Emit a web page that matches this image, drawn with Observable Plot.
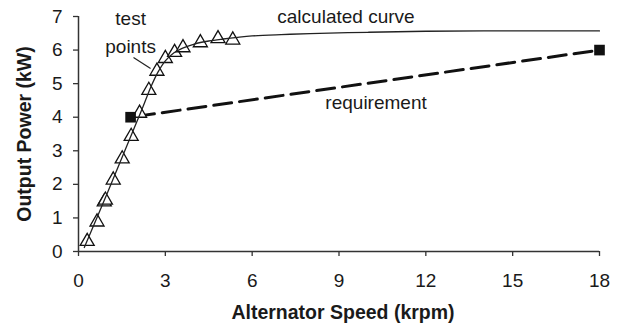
<!DOCTYPE html>
<html><head><meta charset="utf-8">
<script src="https://cdn.jsdelivr.net/npm/d3@7"></script>
<script src="https://cdn.jsdelivr.net/npm/@observablehq/plot@0.6"></script>
<style>body{margin:0;background:#fff}</style>
</head><body><div id="chart"></div>
<script>
// Test points (krpm, kW)
const testSpeed = [0.30, 0.64, 0.89, 0.93, 1.20, 1.51, 1.82, 2.11, 2.43, 2.71, 3.00, 3.32, 3.61, 4.21, 4.82, 5.33];
const testPower = [0.30, 0.88, 1.48, 1.53, 2.13, 2.76, 3.43, 4.12, 4.80, 5.37, 5.75, 5.93, 6.07, 6.22, 6.34, 6.30];
// Calculated curve
const calcSpeed = [0.20, 1.00, 1.80, 2.20, 2.50, 2.75, 3.00, 3.30, 3.60, 4.00, 4.50, 5.00, 5.50, 6.00, 7.00, 8.00, 10.0, 12.0, 14.0, 16.0, 18.0];
const calcPower = [0.12, 1.75, 3.42, 4.25, 4.90, 5.35, 5.68, 5.92, 6.06, 6.18, 6.27, 6.33, 6.38, 6.42, 6.46, 6.49, 6.53, 6.56, 6.57, 6.57, 6.57];
// Requirement
const reqSpeed = [1.8, 18];
const reqPower = [4.0, 6.0];
// Ticks
const xTicks = [0, 3, 6, 9, 12, 15, 18];
const yTicks = [0, 1, 2, 3, 4, 5, 6, 7];
const xTitle = "Alternator Speed (krpm)";
const yTitle = "Output Power (kW)";
// Annotations (data coordinates)
const noteText = ["calculated curve", "requirement", "test", "points"];
const noteX = [9.24, 10.28, 1.80, 1.80];
const noteY = [7.0, 4.43, 6.92, 6.08];
const leader = [{x1: 1.90, y1: 5.78, x2: 2.49, y2: 5.45}];

const tests = testSpeed.map((x, i) => ({x, y: testPower[i]}));
const calc = calcSpeed.map((x, i) => ({x, y: calcPower[i]}));
const req = reqSpeed.map((x, i) => ({x, y: reqPower[i]}));
const notes = noteText.map((t, i) => ({t, x: noteX[i], y: noteY[i]}));

const ink = "#1a1a1a";
const chart = Plot.plot({
  width: 620, height: 330,
  marginLeft: 78, marginRight: 21, marginTop: 16, marginBottom: 79,
  style: {fontFamily: "'Liberation Sans', Arial, sans-serif", fontSize: "19px", color: ink, background: "#fff", overflow: "visible"},
  x: {domain: [0, 18]},
  y: {domain: [0, 7]},
  marks: [
    Plot.axisX({ticks: xTicks, tickFormat: d3.format("d"), tickSize: 5, tickPadding: 17, label: null, fontSize: 19, strokeWidth: 1.3, stroke: "#333"}),
    Plot.axisY({ticks: yTicks, tickFormat: d3.format("d"), tickSize: 5, tickPadding: 11, label: null, fontSize: 19, strokeWidth: 1.3, stroke: "#333"}),
    Plot.ruleY([0], {stroke: "#333", strokeWidth: 1.5}),
    Plot.ruleX([0], {stroke: "#333", strokeWidth: 1.5}),
    Plot.line(req, {x: "x", y: "y", stroke: "#111", strokeWidth: 3, strokeDasharray: "18,8", strokeDashoffset: -6}),
    Plot.dot(tests, {x: "x", y: "y", symbol: "triangle", r: 5.2, fill: "white", stroke: "#111", strokeWidth: 1.3}),
    Plot.line(calc, {x: "x", y: "y", stroke: "#222", strokeWidth: 1.3, curve: "catmull-rom"}),
    Plot.dot(req, {x: "x", y: "y", symbol: "square", r: 6, fill: "#111"}),
    Plot.link(leader, {x1: "x1", y1: "y1", x2: "x2", y2: "y2", stroke: "#222", strokeWidth: 1.2}),
    Plot.text(notes, {x: "x", y: "y", text: "t", fontSize: 19, fill: ink}),
    Plot.text([xTitle], {frameAnchor: "bottom", textAnchor: "middle", dy: 67, dx: 4, text: d => d, fontSize: 19.5, fontWeight: "bold", fill: ink}),
    Plot.text([yTitle], {frameAnchor: "left", textAnchor: "middle", dx: -54, rotate: -90, text: d => d, fontSize: 19.5, fontWeight: "bold", fill: ink})
  ]
});
document.getElementById("chart").appendChild(chart);
</script>
</body></html>
